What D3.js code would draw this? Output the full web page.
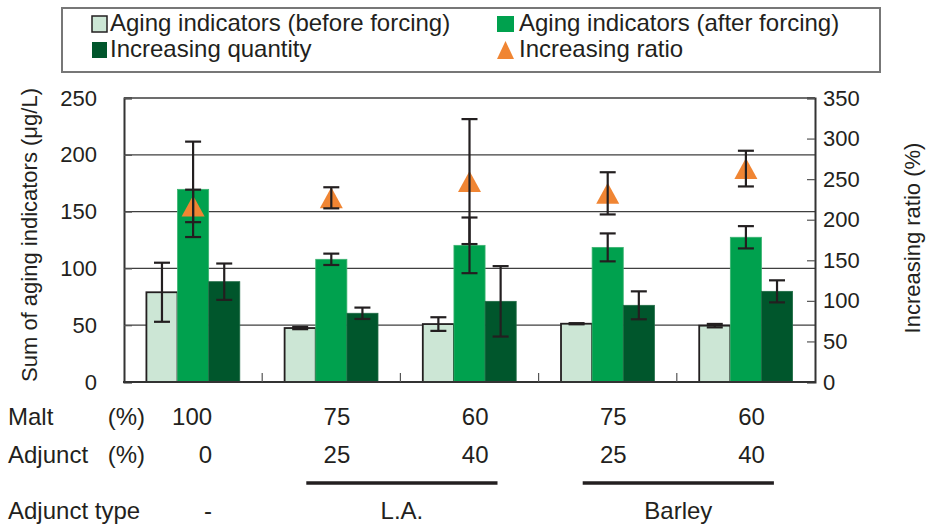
<!DOCTYPE html>
<html>
<head>
<meta charset="utf-8">
<script src="https://cdn.jsdelivr.net/npm/d3@7"></script>
<style>
  body { margin: 0; background: #fff; }
  svg text { font-family: "Liberation Sans", Arial, sans-serif; fill: #231f20; }
</style>
</head>
<body>
<svg id="chart" width="929" height="530"></svg>
<script>
// groups along the x axis
const groups = ["g1", "g2", "g3", "g4", "g5"]
const maltPct = ["100", "75", "60", "75", "60"]
const adjunctPct = ["0", "25", "40", "25", "40"]
const adjunctTypes = [
  { label: "-", from: 0, to: 0 },
  { label: "L.A.", from: 1, to: 2 },
  { label: "Barley", from: 3, to: 4 }
]

// series (left axis, ug/L)
const beforeForcing = [79, 47.5, 51, 51.3, 49.6]
const beforeErr = [26, 1, 6, 0.5, 1.5]
const afterForcing = [169.6, 108, 120.3, 118.5, 127.4]
const afterErr = [42, 5, 24.5, 12.3, 9.8]
const increaseQty = [88.3, 60.5, 71, 67.5, 79.8]
const increaseErr = [16, 5, 31, 12.3, 9.7]
// right axis (%)
const increaseRatio = [217, 227, 247, 232.5, 263]
const ratioErr = [20, 13, 77, 26, 22]

const leftTicks = [0, 50, 100, 150, 200, 250]
const rightTicks = [0, 50, 100, 150, 200, 250, 300, 350]
const legendItems = [
  { key: "before", label: "Aging indicators (before forcing)" },
  { key: "after", label: "Aging indicators (after forcing)" },
  { key: "increase", label: "Increasing quantity" },
  { key: "ratio", label: "Increasing ratio" }
]

const colors = { before: "#cce6d5", after: "#00a14e", increase: "#00562c", ratio: "#f08533" }
const ink = "#231f20"

const margin = { left: 124, right: 114, top: 98, bottom: 148 }
const W = 929, H = 530
const width = W - margin.left - margin.right
const height = H - margin.top - margin.bottom

const svg = d3.select("#chart")
const g = svg.append("g").attr("transform", "translate(" + margin.left + "," + margin.top + ")")

const x = d3.scaleBand().domain(groups).range([0, width]).padding(0)
const xSub = d3.scaleBand().domain(["before", "after", "increase"])
  .range([0, x.bandwidth()]).paddingInner(0).paddingOuter(0.72)
const yL = d3.scaleLinear().domain([0, 250]).range([height, 0])
const yR = d3.scaleLinear().domain([0, 350]).range([height, 0])

// gridlines
g.append("g").selectAll("line")
  .data(leftTicks.filter(d => d > 0 && d < 250))
  .enter().append("line")
  .attr("x1", 0).attr("x2", width)
  .attr("y1", d => yL(d)).attr("y2", d => yL(d))
  .attr("stroke", "#3f3f3f").attr("stroke-width", 1.2)

// top frame line
g.append("line").attr("x1", 0).attr("x2", width).attr("y1", 0).attr("y2", 0)
  .attr("stroke", "#6d6d6d").attr("stroke-width", 2)

// bars
const barData = []
groups.forEach((grp, i) => {
  barData.push({ grp, key: "before", v: beforeForcing[i], e: beforeErr[i] })
  barData.push({ grp, key: "after", v: afterForcing[i], e: afterErr[i] })
  barData.push({ grp, key: "increase", v: increaseQty[i], e: increaseErr[i] })
})

g.append("g").selectAll("rect")
  .data(barData)
  .enter().append("rect")
  .attr("x", d => x(d.grp) + xSub(d.key))
  .attr("width", xSub.bandwidth())
  .attr("y", d => yL(d.v))
  .attr("height", d => height - yL(d.v))
  .attr("fill", d => colors[d.key])
  .attr("stroke", d => d.key === "before" ? ink : (d.key === "after" ? "#3cb371" : "#1f6b45"))
  .attr("stroke-width", d => d.key === "before" ? 1.8 : 0.8)

// triangles for increasing ratio
const triH = 21, triW = 23
const triPath = "M0," + (-triH / 2) + "L" + (triW / 2) + "," + (triH / 2) + "L" + (-triW / 2) + "," + (triH / 2) + "Z"
g.append("g").selectAll("path")
  .data(groups)
  .enter().append("path")
  .attr("d", triPath)
  .attr("transform", (d, i) => "translate(" + (x(d) + x.bandwidth() / 2) + "," + yR(increaseRatio[i]) + ")")
  .attr("fill", colors.ratio)

// error bars
const errData = barData.map(d => ({
  cx: x(d.grp) + xSub(d.key) + xSub.bandwidth() / 2,
  y1: yL(d.v - d.e), y2: yL(d.v + d.e)
})).concat(groups.map((grp, i) => ({
  cx: x(grp) + x.bandwidth() / 2,
  y1: yR(increaseRatio[i] - ratioErr[i]), y2: yR(increaseRatio[i] + ratioErr[i])
})))

const capW = 8
const eg = g.append("g").attr("stroke", ink).attr("stroke-width", 2.2)
eg.selectAll(".stem").data(errData).enter().append("line")
  .attr("x1", d => d.cx).attr("x2", d => d.cx)
  .attr("y1", d => d.y1).attr("y2", d => d.y2)
eg.selectAll(".capTop").data(errData).enter().append("line")
  .attr("x1", d => d.cx - capW).attr("x2", d => d.cx + capW)
  .attr("y1", d => d.y2).attr("y2", d => d.y2)
eg.selectAll(".capBot").data(errData).enter().append("line")
  .attr("x1", d => d.cx - capW).attr("x2", d => d.cx + capW)
  .attr("y1", d => d.y1).attr("y2", d => d.y1)

// axes
const axL = g.append("g")
  .call(d3.axisLeft(yL).tickValues(leftTicks).tickSize(-8).tickPadding(27))
const axR = g.append("g").attr("transform", "translate(" + width + ",0)")
  .call(d3.axisRight(yR).tickValues(rightTicks).tickSize(-8).tickPadding(8))
;[axL, axR].forEach(ax => {
  ax.select(".domain").attr("stroke", "#333").attr("stroke-width", 2)
  ax.selectAll(".tick line").attr("stroke", "#555").attr("stroke-width", 1.2)
  ax.selectAll(".tick text").attr("font-size", 22).attr("fill", ink)
    .attr("font-family", "Liberation Sans, Arial, sans-serif")
})

// bottom axis line + separators between groups
g.append("line").attr("x1", -1).attr("x2", width + 1).attr("y1", height).attr("y2", height)
  .attr("stroke", "#333").attr("stroke-width", 2)
g.append("g").selectAll("line")
  .data(groups.slice(1))
  .enter().append("line")
  .attr("x1", d => x(d)).attr("x2", d => x(d))
  .attr("y1", height).attr("y2", height - 9)
  .attr("stroke", "#555").attr("stroke-width", 1.2)

// axis titles
svg.append("text")
  .attr("transform", "translate(37," + (margin.top + height / 2 - 5) + ") rotate(-90)")
  .attr("text-anchor", "middle").attr("font-size", 22)
  .text("Sum of aging indicators (\u03bcg/L)")
svg.append("text")
  .attr("transform", "translate(920," + (margin.top + height / 2 - 2) + ") rotate(-90)")
  .attr("text-anchor", "middle").attr("font-size", 22)
  .text("Increasing ratio (%)")

// table under x axis
const rowY = [425, 463]
const rows = [
  { name: "Malt", vals: maltPct },
  { name: "Adjunct", vals: adjunctPct }
]
rows.forEach((r, ri) => {
  svg.append("text").attr("x", 8).attr("y", rowY[ri]).attr("font-size", 24).text(r.name)
  svg.append("text").attr("x", 145).attr("y", rowY[ri]).attr("font-size", 24)
    .attr("text-anchor", "end").text("(%)")
  svg.append("g").selectAll("text")
    .data(r.vals).enter().append("text")
    .attr("x", (d, i) => margin.left + x(groups[i]) + x.bandwidth() / 2 + 19)
    .attr("y", rowY[ri]).attr("font-size", 24).attr("text-anchor", "end")
    .text(d => d)
})

svg.append("text").attr("x", 8).attr("y", 519).attr("font-size", 24).text("Adjunct type")
adjunctTypes.forEach(t => {
  const x0 = margin.left + x(groups[t.from]) + x.bandwidth() / 2
  const x1 = margin.left + x(groups[t.to]) + x.bandwidth() / 2
  if (t.from === t.to) {
    svg.append("text").attr("x", x0 + 19).attr("y", 519).attr("font-size", 24)
      .attr("text-anchor", "end").text(t.label)
  } else {
    svg.append("line").attr("x1", x0 - 25).attr("x2", x1 + 28)
      .attr("y1", 483).attr("y2", 483).attr("stroke", ink).attr("stroke-width", 3.5)
    svg.append("text").attr("x", (x0 - 25 + x1 + 28) / 2).attr("y", 519).attr("font-size", 24)
      .attr("text-anchor", "middle").text(t.label)
  }
})

// legend
const lg = svg.append("g")
lg.append("rect").attr("x", 62).attr("y", 8).attr("width", 818).attr("height", 64)
  .attr("fill", "#fff").attr("stroke", "#777").attr("stroke-width", 2)
const legPos = [
  { x: 92, y: 31, w: 15, tx: 110 }, { x: 497, y: 31, w: 17, tx: 519 },
  { x: 92, y: 57, w: 15, tx: 110 }, { x: 497, y: 57, w: 17, tx: 519 }
]
legendItems.forEach((it, i) => {
  const p = legPos[i]
  if (it.key === "ratio") {
    lg.append("path")
      .attr("d", "M" + (p.x + p.w / 2) + "," + (p.y - 16) + "L" + (p.x + p.w) + "," + (p.y + 2) + "L" + p.x + "," + (p.y + 2) + "Z")
      .attr("fill", colors.ratio)
  } else {
    lg.append("rect").attr("x", p.x).attr("y", p.y - 15).attr("width", p.w).attr("height", 16)
      .attr("fill", colors[it.key])
      .attr("stroke", it.key === "before" ? ink : "none").attr("stroke-width", 1.5)
  }
  lg.append("text").attr("x", p.tx).attr("y", p.y).attr("font-size", 24).text(it.label)
})
</script>
</body>
</html>
